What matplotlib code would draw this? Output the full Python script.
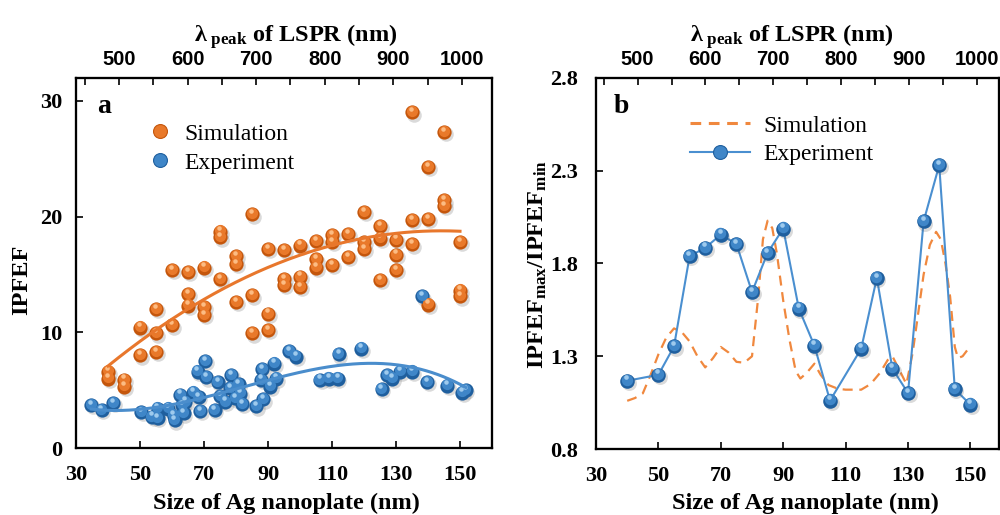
import numpy as np
import matplotlib
matplotlib.use("Agg")
import matplotlib.pyplot as plt
from matplotlib.lines import Line2D
from matplotlib.ticker import MultipleLocator, FixedLocator
from matplotlib.transforms import offset_copy

plt.rcParams['font.family'] = ['Liberation Serif', 'DejaVu Serif']
plt.rcParams['font.weight'] = 'bold'
plt.rcParams['mathtext.fontset'] = 'custom'
plt.rcParams['mathtext.rm'] = 'Liberation Serif:bold'
plt.rcParams['mathtext.it'] = 'Liberation Serif:bold'
plt.rcParams['mathtext.bf'] = 'Liberation Serif:bold'
plt.rcParams['axes.linewidth'] = 1.5

# ---------------- data: panel a ----------------
sim_x = [40, 40, 45, 45, 50, 50, 55, 55, 55, 60, 60,
         65, 65, 65, 70, 70, 70, 75, 75, 75, 80, 80, 80,
         85, 85, 85, 90, 90, 90, 95, 95, 95, 100, 100, 100,
         105, 105, 105, 110, 110, 110, 115, 115, 120, 120, 120,
         125, 125, 125, 130, 130, 130, 135, 135, 135, 140, 140, 140,
         145, 145, 145, 150, 150, 150]
sim_y = [6.6, 6.0, 5.9, 5.3, 10.4, 8.0, 12.0, 9.9, 8.3, 15.4, 10.6,
         15.2, 13.3, 12.3, 15.6, 12.2, 11.5, 18.7, 18.2, 14.6, 16.6, 15.9, 12.6,
         20.2, 13.2, 9.9, 17.2, 11.6, 10.2, 17.1, 14.6, 14.1, 17.5, 14.8, 13.9,
         17.9, 16.3, 15.6, 18.4, 17.8, 15.8, 18.5, 16.5, 20.4, 17.8, 17.2,
         19.2, 18.1, 14.5, 18.0, 16.7, 15.4, 29.0, 19.7, 17.6, 24.3, 19.8, 12.4,
         27.3, 21.4, 20.9, 17.8, 13.6, 13.1]

exp_x = [34.8, 38.0, 41.7, 50.4, 53.7, 55.5, 55.5, 58.9, 60.5, 60.8,
         62.6, 63.1, 63.6, 64.1, 66.7, 68.3, 68.0, 70.4, 70.6, 68.8,
         73.3, 74.3, 75.1, 76.7, 78.5, 78.2, 79.8, 80.8, 81.3, 81.9,
         86.3, 88.1, 87.8, 88.5, 90.7, 92.0, 92.5, 96.6, 98.7, 106.2,
         109.0, 111.8, 112.1, 119.2, 125.5, 127.3, 128.8, 131.4, 135.1, 138.2,
         139.8, 146.0, 150.7, 151.8]
exp_y = [3.7, 3.3, 3.9, 3.1, 2.7, 3.4, 2.6, 3.4, 2.8, 2.4,
         4.6, 3.7, 3.0, 4.0, 4.8, 4.4, 6.6, 7.5, 6.1, 3.2,
         3.3, 5.7, 4.5, 4.0, 6.3, 5.2, 4.3, 5.5, 4.7, 3.8,
         3.6, 6.8, 5.9, 4.2, 5.3, 7.3, 6.0, 8.4, 7.9, 5.9,
         6.0, 6.0, 8.1, 8.6, 5.1, 6.3, 6.0, 6.6, 6.6, 13.1,
         5.7, 5.4, 4.8, 5.0]

# ---------------- data: panel b ----------------
ratio_exp_x = [40, 50, 55, 60, 65, 70, 75, 80, 85, 90, 95, 100, 105,
               115, 120, 125, 130, 135, 140, 145, 150]
ratio_exp_y = [1.168, 1.20, 1.353, 1.839, 1.884, 1.955, 1.905, 1.646, 1.857,
               1.988, 1.557, 1.357, 1.061, 1.341, 1.722, 1.233, 1.102, 2.027,
               2.329, 1.123, 1.039]

ratio_sim_x = [40, 42.5, 45, 47.5, 50, 52.5, 55, 57.5, 60, 62.5, 65, 67.5, 70,
               72.5, 75, 77.5, 80, 82, 83.5, 85, 86.5, 88, 90, 92, 94, 95.5,
               97.5, 100, 102, 104.5, 107.5, 110, 115, 118, 121, 123.5, 125,
               126.5, 129.5, 131.5, 133, 135, 137, 139, 140.5, 142, 143.5, 145,
               146, 147.5, 150]
ratio_sim_y = [1.06, 1.075, 1.10, 1.20, 1.31, 1.40, 1.45, 1.43, 1.38, 1.30,
               1.24, 1.29, 1.35, 1.32, 1.27, 1.265, 1.30, 1.62, 1.93, 2.03,
               1.99, 1.85, 1.60, 1.39, 1.22, 1.18, 1.21, 1.26, 1.20, 1.145,
               1.125, 1.12, 1.12, 1.15, 1.21, 1.28, 1.30, 1.25, 1.15, 1.32,
               1.50, 1.74, 1.90, 1.97, 1.93, 1.80, 1.62, 1.35, 1.29, 1.30, 1.355]

size_ticks = [30, 50, 70, 90, 110, 130, 150]
lam_ticks = [500, 600, 700, 800, 900, 1000]

ORANGE = dict(dark='#C4560C', mid='#E9792A', light='#FFC48E')
BLUE = dict(dark='#1F5F9E', mid='#3F86C8', light='#A9D2F2')

fig = plt.figure(figsize=(10, 5.15), dpi=100)


def balls(ax, x, y, col, s=105, z=3):
    sh = offset_copy(ax.transData, fig=fig, x=1.2, y=-1.6, units='points')
    ax.scatter(x, y, s=s * 1.05, color='0.35', alpha=0.22, lw=0, transform=sh, zorder=z)
    ax.scatter(x, y, s=s, color=col['dark'], lw=0, zorder=z + 0.1)
    t1 = offset_copy(ax.transData, fig=fig, x=-0.3, y=0.9, units='points')
    ax.scatter(x, y, s=s * 0.62, color=col['mid'], lw=0, transform=t1, zorder=z + 0.2)
    t2 = offset_copy(ax.transData, fig=fig, x=-0.8, y=2.4, units='points')
    ax.scatter(x, y, s=s * 0.10, color=col['light'], lw=0, transform=t2, zorder=z + 0.3, alpha=0.9)


def style_axes(ax, ax2, lamlim):
    ax.tick_params(axis='both', which='both', direction='in', length=5, width=1.2,
                   labelsize=16, top=False, right=False)
    ax.tick_params(axis='x', pad=12)
    ax.tick_params(axis='y', pad=10)
    ax.xaxis.set_major_locator(FixedLocator(size_ticks))
    ax2.set_xlim(*lamlim)
    ax2.xaxis.set_major_locator(FixedLocator(lam_ticks))
    ax2.xaxis.set_minor_locator(MultipleLocator(50))
    ax2.tick_params(axis='x', which='both', direction='in', length=5, width=1.2, pad=6)
    for lbl in ax2.get_xticklabels():
        lbl.set_fontfamily('Liberation Sans')
        lbl.set_fontweight('bold')
        lbl.set_fontsize(14.5)
    for sp in ax.spines.values():
        sp.set_linewidth(1.6)


# ---------------- panel a ----------------
axa = fig.add_axes([0.076, 0.130, 0.416, 0.719])
axa.set_xlim(30, 160)
axa.set_ylim(0, 32)
axa.yaxis.set_major_locator(FixedLocator([0, 10, 20, 30]))
balls(axa, sim_x, sim_y, ORANGE)
balls(axa, exp_x, exp_y, BLUE)

cs = np.polyfit(sim_x, sim_y, 2)
xs = np.linspace(min(sim_x), max(sim_x), 200)
axa.plot(xs, np.polyval(cs, xs), color='#E8772C', lw=2.2, zorder=6)
ce = np.polyfit(exp_x, exp_y, 3)
xe = np.linspace(min(exp_x), max(exp_x), 200)
axa.plot(xe, np.polyval(ce, xe), color='#4A8DCC', lw=2.2, zorder=6)

axa2 = axa.twiny()
style_axes(axa, axa2, (437.3, 1043.8))
axa.set_xlabel('Size of Ag nanoplate (nm)', fontsize=17.5, fontweight='bold')
axa.xaxis.set_label_coords(0.507, -0.122)
axa.set_ylabel('IPFEF', fontsize=17.5, fontweight='bold')
axa.yaxis.set_label_coords(-0.106, 0.455)
axa2.set_xlabel(r'$\lambda_{\ \mathrm{peak}}$ of LSPR (nm)', fontsize=17.5, fontweight='bold')
axa2.xaxis.set_label_coords(0.528, 1.097)
axa.text(0.05, 0.955, 'a', transform=axa.transAxes, fontsize=20, fontweight='bold',
         va='top', ha='left')

h_sim = Line2D([], [], ls='none', marker='o', markersize=10, markerfacecolor=ORANGE['mid'],
               markeredgecolor=ORANGE['dark'], markeredgewidth=0.8)
h_exp = Line2D([], [], ls='none', marker='o', markersize=10, markerfacecolor=BLUE['mid'],
               markeredgecolor=BLUE['dark'], markeredgewidth=0.8)
axa.legend([h_sim, h_exp], ['Simulation', 'Experiment'], loc='upper left',
           bbox_to_anchor=(0.122, 0.935), frameon=False, handlelength=1.0,
           handletextpad=0.55, labelspacing=0.32,
           prop={'family': 'Liberation Serif', 'weight': 'normal', 'size': 17})

# ---------------- panel b ----------------
axb = fig.add_axes([0.596, 0.128, 0.4025, 0.721])
axb.set_xlim(30, 159)
axb.set_ylim(0.8, 2.8)
axb.yaxis.set_major_locator(FixedLocator([0.8, 1.3, 1.8, 2.3, 2.8]))
axb.yaxis.set_major_formatter(matplotlib.ticker.FormatStrFormatter('%.1f'))
axb.plot(ratio_sim_x, ratio_sim_y, color='#F0883E', lw=1.6, ls=(0, (4.5, 3.0)), zorder=3)
axb.plot(ratio_exp_x, ratio_exp_y, color='#4A8FD0', lw=1.5, zorder=4)
balls(axb, ratio_exp_x, ratio_exp_y, BLUE, s=110, z=5)

axb2 = axb.twiny()
style_axes(axb, axb2, (438.7, 1032.0))
axb.tick_params(axis='y', pad=13)
axb.set_xlabel('Size of Ag nanoplate (nm)', fontsize=17.5, fontweight='bold')
axb.xaxis.set_label_coords(0.52, -0.119)
axb.set_ylabel(r'IPFEF$_{\mathrm{max}}$/IPFEF$_{\mathrm{min}}$', fontsize=17.5, fontweight='bold')
axb.yaxis.set_label_coords(-0.118, 0.496)
axb2.set_xlabel(r'$\lambda_{\ \mathrm{peak}}$ of LSPR (nm)', fontsize=17.5, fontweight='bold')
axb2.xaxis.set_label_coords(0.485, 1.097)
axb.text(0.045, 0.955, 'b', transform=axb.transAxes, fontsize=20, fontweight='bold',
         va='top', ha='left')

hb_sim = Line2D([], [], color='#F0883E', lw=2.2, ls=(0, (3.5, 2.5)))
hb_exp = Line2D([], [], color='#4A8FD0', lw=1.5, marker='o', markersize=10,
                markerfacecolor=BLUE['mid'], markeredgecolor=BLUE['dark'], markeredgewidth=0.8)
axb.legend([hb_sim, hb_exp], ['Simulation', 'Experiment'], loc='upper left',
           bbox_to_anchor=(0.18, 0.957), frameon=False, handlelength=2.55,
           handletextpad=0.55, labelspacing=0.3,
           prop={'family': 'Liberation Serif', 'weight': 'normal', 'size': 17})

fig.savefig('out.png', dpi=100)
